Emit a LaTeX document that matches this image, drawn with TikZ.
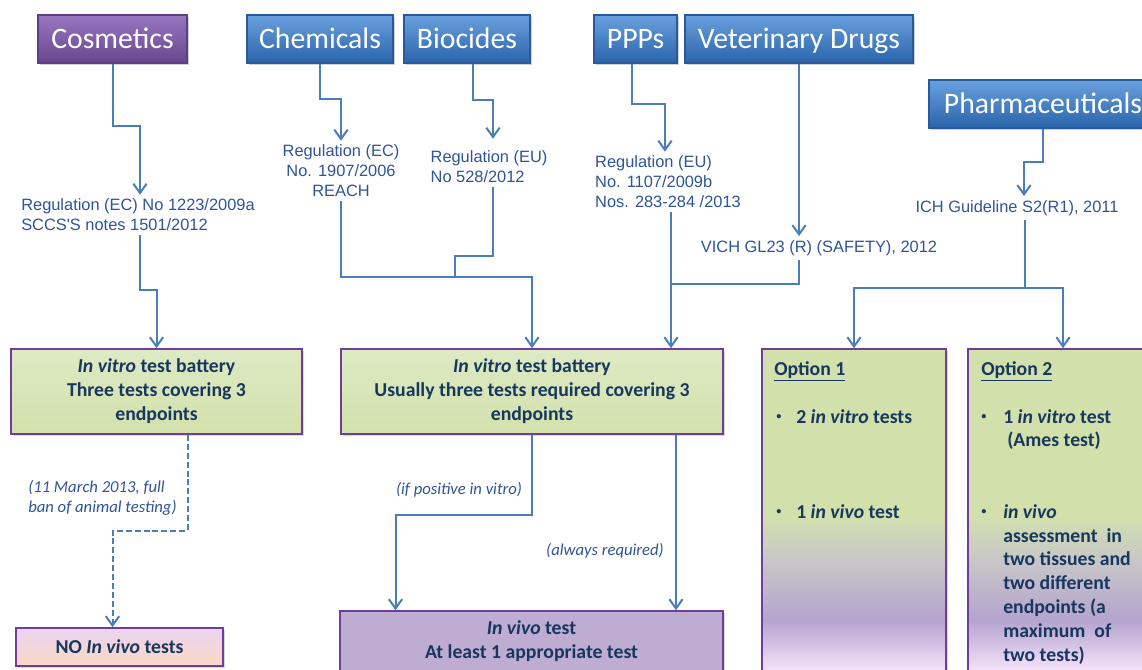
\documentclass[tikz,border=0pt]{standalone}
\usepackage{fontspec}
\setmainfont{Carlito}
\newfontfamily\arialfam{Liberation Sans}
\usetikzlibrary{arrows.meta,calc,shadows}
\definecolor{connblue}{RGB}{74,126,187}
\definecolor{regblue}{RGB}{47,85,151}
\definecolor{boxtext}{RGB}{23,55,94}
\definecolor{hbT}{RGB}{105,160,222}
\definecolor{hbB}{RGB}{42,100,170}
\definecolor{hbD}{RGB}{40,90,155}
\definecolor{hpT}{RGB}{152,118,192}
\definecolor{hpB}{RGB}{104,70,144}
\definecolor{hpD}{RGB}{95,62,130}
\definecolor{boxgreen}{RGB}{210,225,172}
\definecolor{boxgreenT}{RGB}{222,234,196}
\definecolor{boxborder}{RGB}{112,62,152}
\definecolor{vivofill}{RGB}{190,172,210}
\definecolor{noT}{RGB}{234,212,242}
\definecolor{noB}{RGB}{250,216,196}
\definecolor{optpink}{RGB}{248,230,252}
\definecolor{optpurple}{RGB}{181,164,207}
\definecolor{optgrey}{RGB}{200,198,200}
\pgfdeclareverticalshading{optshade}{100bp}{color(0bp)=(optpink); color(26bp)=(optpink); color(34bp)=(optpurple); color(43bp)=(optgrey); color(50bp)=(boxgreen); color(100bp)=(boxgreen)}
\newcommand\smallbul{{\arialfam\fontsize{11}{12}\selectfont\raisebox{1pt}{•}}}
\begin{document}
\begin{tikzpicture}[x=0.75pt,y=-0.75pt,
  hdr/.style={line width=0.8pt, minimum height=36pt, inner sep=0pt, text=white,
    font=\fontsize{22.3}{26}\selectfont, text height=18pt, text depth=3.8pt,
    drop shadow={shadow xshift=1.2pt, shadow yshift=-1.8pt, opacity=0.35}},
  hblue/.style={hdr, draw=hbD, top color=hbT, bottom color=hbB},
  hpurple/.style={hdr, draw=hpD, top color=hpT, bottom color=hpB},
  reg/.style={text=regblue, font=\arialfam\fontsize{12.3}{15}\selectfont, inner sep=3pt},
  lbl/.style={text=regblue, font=\fontsize{12.5}{15}\selectfont\itshape, inner sep=0pt},
  conn/.style={draw=connblue, line width=1.5pt, -{Straight Barb[length=7pt,width=10pt]}},
  cline/.style={draw=connblue, line width=1.5pt},
  tbox/.style={draw=boxborder, line width=1.2pt, text=boxtext,
    font=\fontsize{14.8}{18}\selectfont\bfseries, align=center, inner sep=0pt,
    drop shadow={shadow xshift=1.2pt, shadow yshift=-1.8pt, opacity=0.3}},
  gbox/.style={tbox, top color=boxgreenT, bottom color=boxgreen},
  obox/.style={tbox, shading=optshade},
  otext/.style={anchor=base west, inner sep=0pt, text=boxtext, font=\fontsize{14.8}{18}\selectfont\bfseries},
]
\useasboundingbox (0,0) rectangle (1142,669);
\clip (0,0) rectangle (1142,669);
\fill[white] (0,0) rectangle (1142,669);

% header boxes
\node[hpurple, minimum width=149*0.75pt] (cos) at (112.5,39) {Cosmetics};
\node[hblue, minimum width=146*0.75pt] (chem) at (320,39) {Chemicals};
\node[hblue, minimum width=126*0.75pt] (bio) at (467,39) {Biocides};
\node[hblue, minimum width=83*0.75pt] (ppp) at (635.5,39) {PPPs};
\node[hblue, minimum width=228*0.75pt] (vet) at (799,39) {Veterinary Drugs};
\node[hblue, minimum width=228*0.75pt] (pharma) at (1043,104) {Pharmaceuticals};

% regulation texts
\node[reg, align=left] (regcos) at (138,215) {Regulation (EC) No 1223/2009a\\SCCS'S notes 1501/2012};
\node[reg, align=center] (regchem) at (341,171) {Regulation (EC)\\No. 1907/2006\\REACH};
\node[reg, align=left] (regbio) at (489,167) {Regulation (EU)\\No 528/2012};
\node[reg, align=left] (regppp) at (668,182) {Regulation (EU)\\No. 1107/2009b\\Nos. 283-284 /2013};
\node[reg] (regvich) at (819,248) {VICH GL23 (R) (SAFETY), 2012};
\node[reg] (regich) at (1017,208) {ICH Guideline S2(R1), 2011};

% lower boxes
\node[gbox, minimum width=291*0.75pt, minimum height=85*0.75pt] (cosvit) at (156.5,391.5)
  {\textit{In vitro} test battery\\Three tests covering 3\\endpoints};
\node[gbox, minimum width=382*0.75pt, minimum height=85*0.75pt] (midvit) at (532,391.5)
  {\textit{In vitro} test battery\\Usually three tests required covering 3\\endpoints};
\node[obox, minimum width=184*0.75pt, minimum height=331*0.75pt] (opt1) at (854,514.5) {};
\node[obox, minimum width=190*0.75pt, minimum height=331*0.75pt] (opt2) at (1063,514.5) {};
\node[tbox, top color=noT, bottom color=noB, minimum width=207*0.75pt, minimum height=38*0.75pt] (noviv) at (119.5,647)
  {NO \textit{In vivo} tests};
\node[tbox, fill=vivofill, minimum width=383*0.75pt, minimum height=60*0.75pt] (invivo) at (531.5,641)
  {\textit{In vivo} test\\At least 1 appropriate test};

% option texts
\node[otext] (o1h) at (774,375) {\underline{Option 1}};
\node[otext] (o1b1) at (776,423) {\smallbul};
\node[otext] (o1t1) at (796,423) {2 \textit{in vitro} tests};
\node[otext] (o1b2) at (776,518) {\smallbul};
\node[otext] (o1t2) at (796,518) {1 \textit{in vivo} test};
\node[otext] (o2h) at (981,375) {\underline{Option 2}};
\node[otext] (o2b1) at (981,423) {\smallbul};
\node[otext] (o2t1) at (1003,423) {1 \textit{in vitro} test};
\node[otext] (o2t1b) at (1007,446) {(Ames test)};
\node[otext] (o2b2) at (981,518) {\smallbul};
\node[otext] (o2l1) at (1003,518) {\textit{in vivo}};
\node[otext] (o2l2) at (1003,542) {assessment\ \ in};
\node[otext] (o2l3) at (1003,565) {two tissues and};
\node[otext] (o2l4) at (1003,589) {two different};
\node[otext] (o2l5) at (1003,613) {endpoints (a};
\node[otext] (o2l6) at (1003,637) {maximum\ \ of};
\node[otext] (o2l7) at (1003,661) {two tests)};

% labels
\node[lbl, align=left, anchor=west] (lban) at (28,498) {(11 March 2013, full\\ban of animal testing)};
\node[lbl] (lpos) at (459,490) {(if positive in vitro)};
\node[lbl] (lalw) at (605,551) {(always required)};

% connectors: headers to regulations
\draw[conn] (cos.south) -- ++(0,62) -| ($(regcos.north)+(2,0)$);
\draw[conn] (chem.south) -- ++(0,35) -| (regchem.north);
\draw[conn] ($(bio.south)+(6,0)$) -- ++(0,36) -| ($(regbio.north)+(4,-8)$);
\draw[conn] ($(ppp.south)+(-3.5,0)$) -- ++(0,40) -| ($(regppp.north)+(-3,0)$);
\draw[conn] (vet.south) -- (vet.south |- regvich.north);
\draw[conn] (pharma.south) -- ++(0,33) -| ($(regich.north)+(7,0)$);

% regulations to boxes
\draw[conn] ($(regcos.south)+(2,0)$) -- ++(0,55) -| (cosvit.north);
\draw[conn] (regchem.south) |- ($(midvit.north)+(0,-71)$) -- (midvit.north);
\draw[cline] ($(regbio.south)+(4,0)$) -- ++(0,69) -| ($(midvit.north)+(-77,-71)$);
\coordinate (pp) at ($(regppp.south)+(3,0)$);
\draw[conn] (pp) -- (pp |- midvit.north);
\draw[cline] (regvich.south -| vet.south) -- ++(0,24) coordinate (vj) -- (vj -| pp);
\draw[cline] ($(regich.south)+(8,0)$) -- ++(0,68) coordinate (ij);
\draw[conn] (ij) -| (opt1.north);
\draw[conn] (ij) -| (opt2.north);

% lower connectors
\draw[conn, dash pattern=on 4.5pt off 2.2pt] ($(cosvit.south)+(31,0)$) -- ++(0,96) -| ($(noviv.north)+(-7,0)$);
\draw[conn] (midvit.south) -- ++(0,80) -| ($(invivo.north)+(-136,0)$);
\draw[conn] ($(midvit.south)+(144,0)$) -- ($(invivo.north)+(144.5,0)$);
\end{tikzpicture}
\end{document}
